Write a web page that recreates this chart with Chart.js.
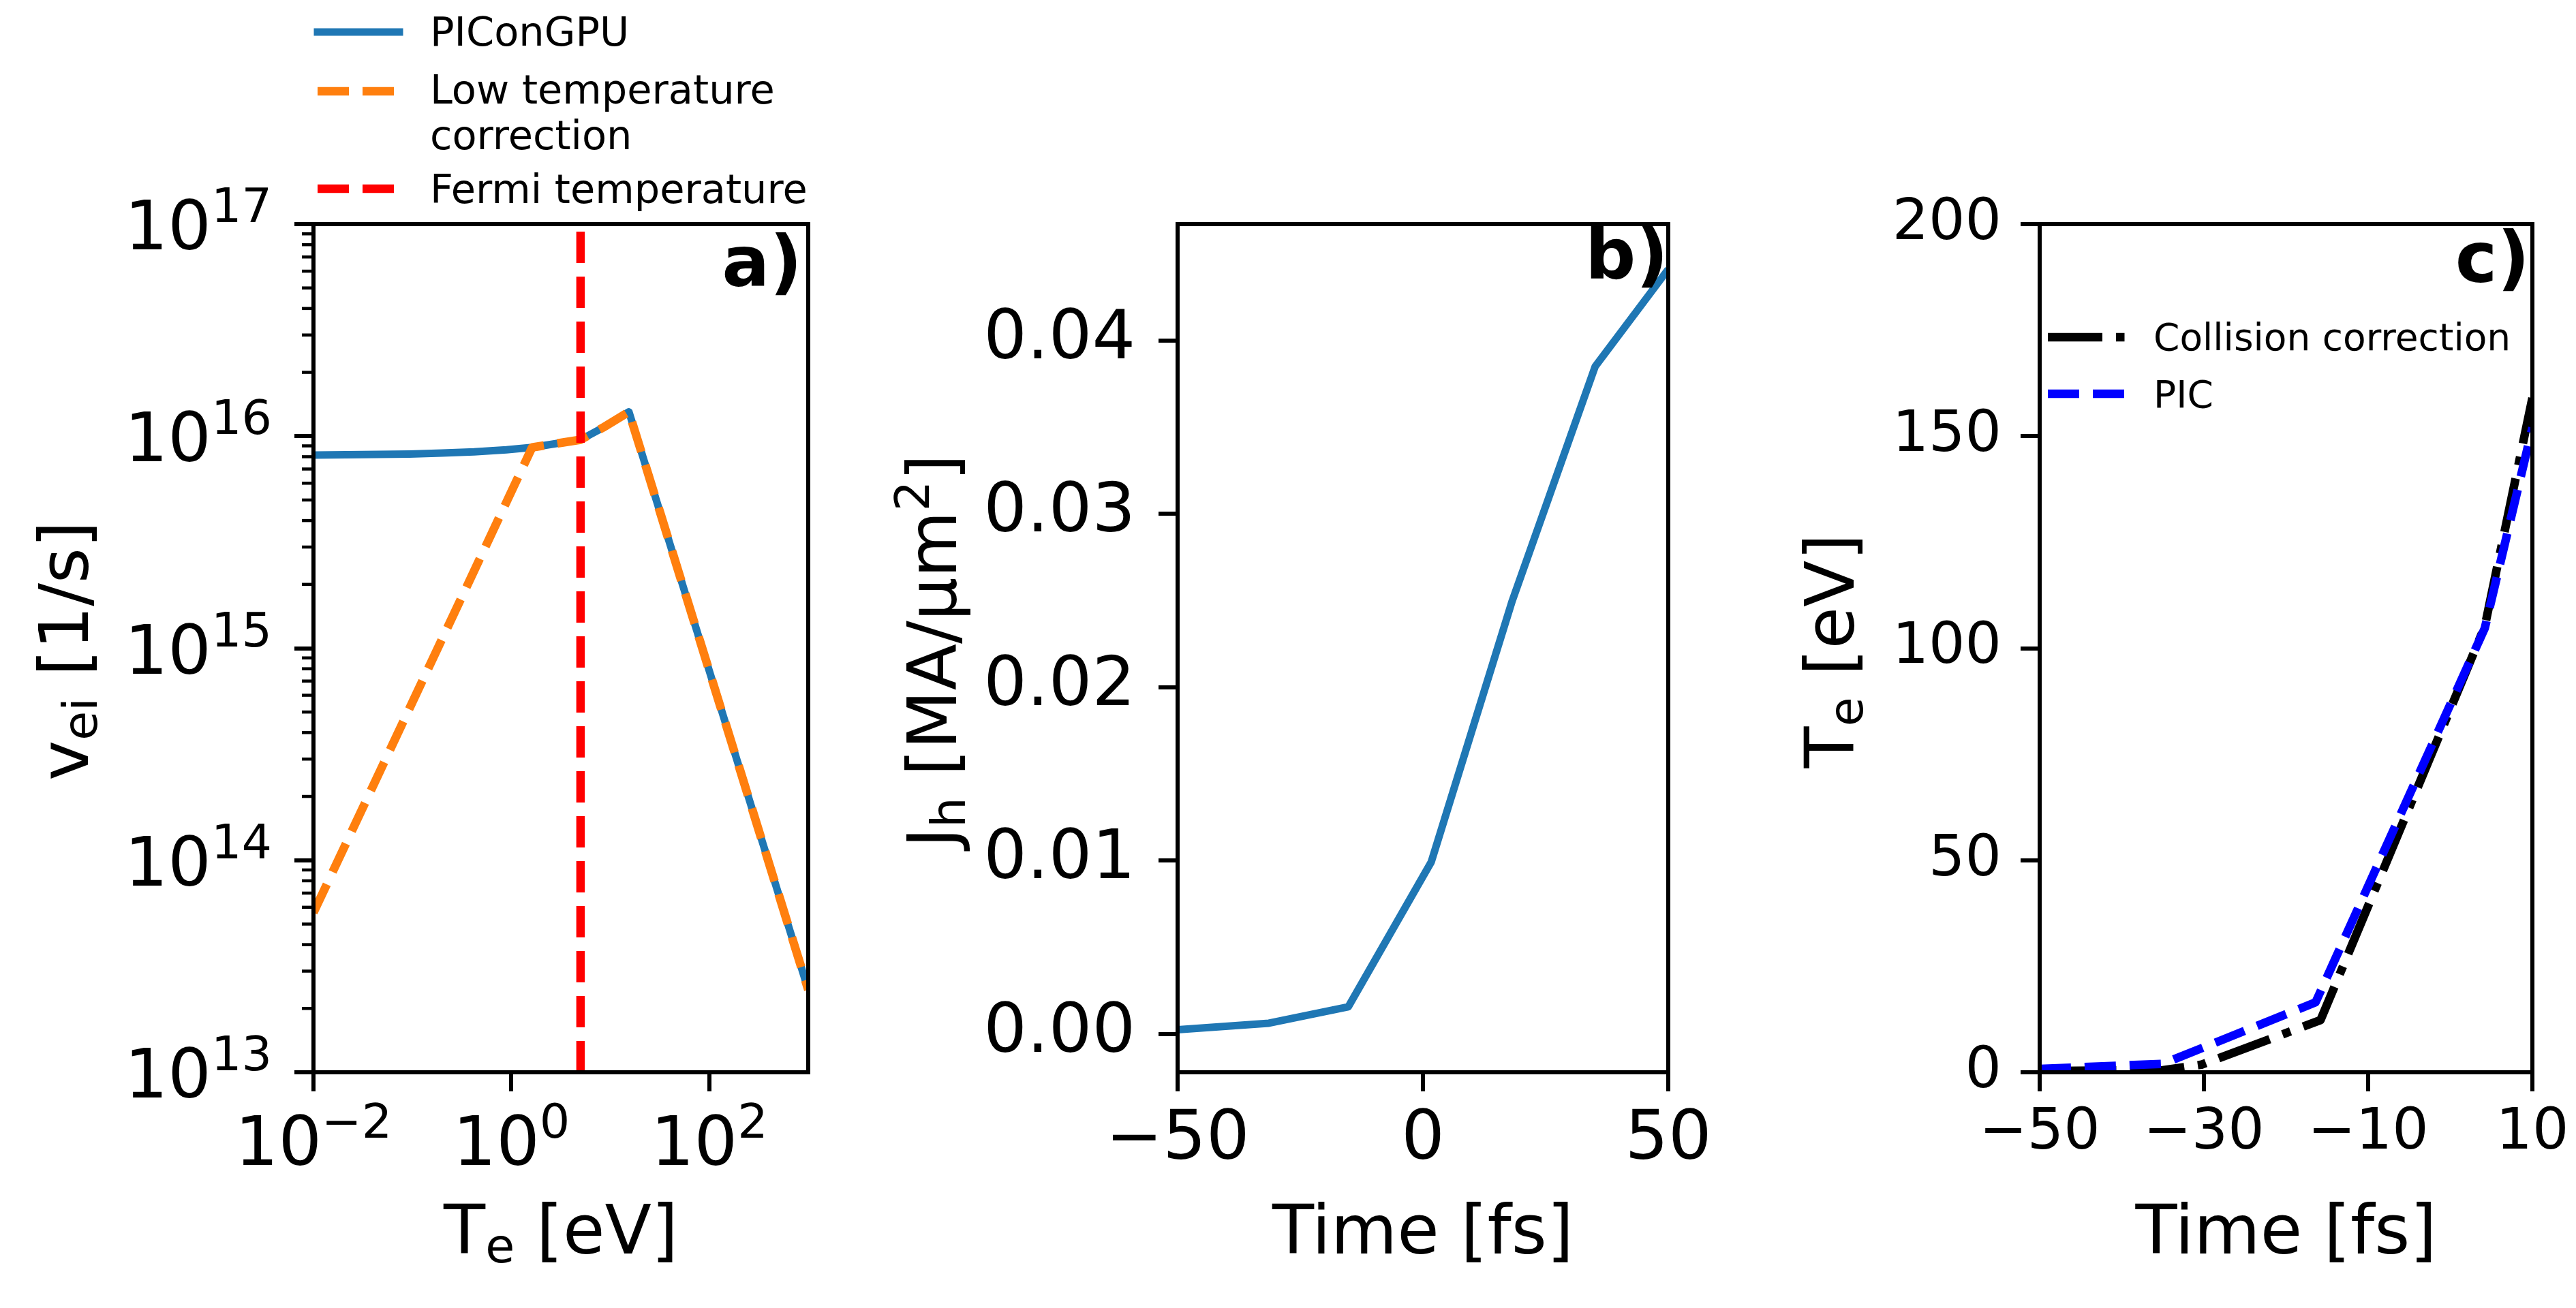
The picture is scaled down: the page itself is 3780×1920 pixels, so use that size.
<!DOCTYPE html>
<html>
<head>
<meta charset="utf-8">
<script src="https://cdn.jsdelivr.net/npm/chart.js"></script>
<style>
html, body { margin: 0; padding: 0; background: #fff; overflow: hidden; width: 3780px; height: 1920px; }
canvas { position: absolute; top: 0; }
</style>
</head>
<body>
<canvas id="panelA" width="1240" height="1920" style="left:0px"></canvas>
<canvas id="panelB" width="1300" height="1920" style="left:1240px"></canvas>
<canvas id="panelC" width="1330" height="1920" style="left:2500px"></canvas>
<script>
// panel a: collision frequency vs electron temperature (log-log)
const aTempPic = [0.01, 0.094, 0.2, 0.42, 0.89, 1.62, 2.94, 5.0, 8.4, 15.4, 1000];
const aNuPic = [8.15e15, 8.24e15, 8.32e15, 8.43e15, 8.63e15, 8.85e15, 9.25e15, 9.62e15, 1.096e16, 1.303e16, 2.45e13];
const aTempLow = [0.01, 1.62, 2.94, 5.0, 8.4, 15.4, 1000];
const aNuLow = [5.66e13, 8.85e15, 9.25e15, 9.62e15, 1.096e16, 1.303e16, 2.45e13];
const aFermiT = 5.0;
const aTempRange = [1e-2, 1e3];
const aNuRange = [1e13, 1e17];
const aTempTicks = [1e-2, 1e0, 1e2];
const aNuDecades = [13, 14, 15, 16, 17];

// panel b: hot electron current density vs time
const bTime = [-50, -31.4, -15.2, 1.7, 18.2, 35.1, 50];
const bJh = [0.00025, 0.00063, 0.00158, 0.00993, 0.02498, 0.03849, 0.0441];
const bTimeRange = [-50, 50];
const bJhRange = [-0.0022, 0.0467];
const bTimeTicks = [-50, 0, 50];
const bJhTicks = [0, 0.01, 0.02, 0.03, 0.04];

// panel c: electron temperature vs time
const cTimeColl = [-50, -35.0, -30.3, -15.8, 4.2, 10];
const cTeColl = [0.3, 0.5, 1.8, 12.3, 105.1, 159];
const cTimePic = [-50, -35.0, -16.4, 4.2, 10];
const cTePic = [0.8, 2.0, 16.5, 104.7, 152];
const cTimeRange = [-50, 10];
const cTeRange = [0, 200];
const cTimeTicks = [-50, -30, -10, 10];
const cTeTicks = [0, 50, 100, 150, 200];

const FONT = '"DejaVu Sans"';
const MINUS = '\u2212';

function pts(xs, ys) {
    return xs.map((x, i) => ({x: x, y: ys[i]}));
}

function isDecade(v) {
    const l = Math.log10(v);
    return Math.abs(l - Math.round(l)) < 1e-9;
}

function expText(v) {
    return String(Math.round(Math.log10(v))).replace('-', MINUS);
}

// text with sub/superscripts, drawn at a baseline
function drawRich(ctx, parts, x, y, size, align, rot) {
    ctx.save();
    ctx.translate(x, y);
    if (rot) ctx.rotate(rot);
    let w = 0;
    parts.forEach(p => {
        ctx.font = (p.s ? size * 0.7 : size) + 'px ' + FONT;
        w += ctx.measureText(p.t).width;
    });
    let cx = align === 'center' ? -w / 2 : align === 'right' ? -w : 0;
    ctx.textAlign = 'left';
    ctx.textBaseline = 'alphabetic';
    ctx.fillStyle = '#000';
    parts.forEach(p => {
        ctx.font = (p.s ? size * 0.7 : size) + 'px ' + FONT;
        const dy = p.s === 'sup' ? -0.40 * size : p.s === 'sub' ? 0.13 * size : 0;
        ctx.fillText(p.t, cx, dy);
        cx += ctx.measureText(p.t).width;
    });
    ctx.restore();
}

// spines, titles, panel letter, legend, log tick labels
function decor(cfg) {
    return {
        id: 'decor',
        afterDatasetsDraw(chart) {
            const ctx = chart.ctx;
            const ca = chart.chartArea;
            const off = cfg.offset;
            ctx.save();
            ctx.translate(-off, 0);
            const L = ca.left + off, R = ca.right + off;

            // box
            ctx.strokeStyle = '#000';
            ctx.lineWidth = 6;
            ctx.setLineDash([]);
            ctx.strokeRect(L, ca.top, R - L, ca.bottom - ca.top);

            if (cfg.logTicks) {
                const sx = chart.scales.x, sy = chart.scales.y;
                ctx.lineWidth = 4.5;
                sy.ticks.forEach(t => {
                    if (isDecade(t.value)) return;
                    const py = sy.getPixelForValue(t.value);
                    ctx.beginPath();
                    ctx.moveTo(L - 17, py);
                    ctx.lineTo(L, py);
                    ctx.stroke();
                });
                sx.ticks.forEach(t => {
                    const px = sx.getPixelForValue(t.value) + off;
                    drawRich(ctx, [{t: '10'}, {t: expText(t.value), s: 'sup'}], px, 1710, 100, 'center');
                });
                sy.ticks.forEach(t => {
                    if (!isDecade(t.value)) return;
                    const py = sy.getPixelForValue(t.value);
                    drawRich(ctx, [{t: '10'}, {t: expText(t.value), s: 'sup'}], 399, py + 37, 100, 'right');
                });
            }

            drawRich(ctx, cfg.xTitle, (L + R) / 2, 1840, 100, 'center');
            drawRich(ctx, cfg.yTitle, cfg.yTitleX, (ca.top + ca.bottom) / 2 + 4, 100, 'center', -Math.PI / 2);

            ctx.font = 'bold 104px ' + FONT;
            ctx.textAlign = 'right';
            ctx.textBaseline = 'alphabetic';
            ctx.fillStyle = '#000';
            ctx.fillText(cfg.letter, cfg.letterX, cfg.letterY);

            if (cfg.legend) {
                const lg = cfg.legend;
                lg.items.forEach(it => {
                    const ds = chart.data.datasets[it.ds];
                    const dash = ds.borderDash || [];
                    ctx.strokeStyle = ds.borderColor;
                    ctx.lineWidth = ds.borderWidth;
                    ctx.setLineDash(dash);
                    ctx.lineCap = dash.length ? 'butt' : 'square';
                    ctx.beginPath();
                    ctx.moveTo(lg.x0, it.y);
                    ctx.lineTo(lg.x1, it.y);
                    ctx.stroke();
                    ctx.setLineDash([]);
                    ctx.font = lg.size + 'px ' + FONT;
                    ctx.textAlign = 'left';
                    ctx.fillStyle = '#000';
                    it.lines.forEach((txt, k) => ctx.fillText(txt, lg.tx, it.base[k]));
                });
            }
            ctx.restore();
        }
    };
}

const tickGrid = {
    display: true, drawOnChartArea: false, drawTicks: true,
    tickLength: 28, tickWidth: 6, tickColor: '#000', color: '#000', lineWidth: 6
};
const tickFont = {family: 'DejaVu Sans', size: 100};
const tickFontC = {family: 'DejaVu Sans', size: 84};

function baseOptions(pad) {
    return {
        responsive: false,
        animation: false,
        devicePixelRatio: 1,
        events: [],
        layout: {padding: pad},
        elements: {
            point: {radius: 0},
            line: {tension: 0, fill: false, borderJoinStyle: 'round', borderCapStyle: 'butt'}
        },
        plugins: {legend: {display: false}, tooltip: {enabled: false}}
    };
}

// ---- panel a
const aNuTicks = [];
aNuDecades.forEach(e => {
    aNuTicks.push(Math.pow(10, e));
    if (e < aNuDecades[aNuDecades.length - 1]) {
        for (let m = 2; m <= 9; m++) aNuTicks.push(m * Math.pow(10, e));
    }
});

const optA = baseOptions({left: 0, top: 329, right: 54, bottom: 0});
optA.scales = {
    x: {
        type: 'logarithmic', min: aTempRange[0], max: aTempRange[1], bounds: 'data',
        afterBuildTicks: s => { s.ticks = aTempTicks.map(v => ({value: v})); },
        afterFit: s => { s.height = 346; },
        ticks: {display: false},
        grid: tickGrid,
        border: {display: false}
    },
    y: {
        type: 'logarithmic', min: aNuRange[0], max: aNuRange[1], bounds: 'data',
        afterBuildTicks: s => { s.ticks = aNuTicks.map(v => ({value: v})); },
        afterFit: s => { s.width = 460; },
        ticks: {display: false},
        grid: Object.assign({}, tickGrid, {
            tickColor: c => (c.tick && !isDecade(c.tick.value)) ? 'rgba(0,0,0,0)' : '#000'
        }),
        border: {display: false}
    }
};

new Chart(document.getElementById('panelA'), {
    type: 'line',
    data: {
        datasets: [
            {label: 'PIConGPU', data: pts(aTempPic, aNuPic), borderColor: '#1f77b4', borderWidth: 11, order: 3, clip: 0},
            {label: 'Low temperature correction', data: pts(aTempLow, aNuLow), borderColor: '#ff7f0e', borderWidth: 12.5, borderDash: [46, 20], order: 2, clip: 0},
            {label: 'Fermi temperature', data: [{x: aFermiT, y: aNuRange[0]}, {x: aFermiT, y: aNuRange[1]}], borderColor: '#ff0000', borderWidth: 12.5, borderDash: [46, 20], order: 1, clip: 0}
        ]
    },
    options: optA,
    plugins: [decor({
        offset: 0, logTicks: true,
        xTitle: [{t: 'T'}, {t: 'e', s: 'sub'}, {t: ' [eV]'}],
        yTitle: [{t: 'v'}, {t: 'ei', s: 'sub'}, {t: ' [1/s]'}],
        yTitleX: 129,
        letter: 'a)', letterX: 1177, letterY: 420,
        legend: {
            x0: 466, x1: 586, tx: 631, size: 59,
            items: [
                {ds: 0, y: 47, lines: ['PIConGPU'], base: [67]},
                {ds: 1, y: 134, lines: ['Low temperature', 'correction'], base: [152, 219]},
                {ds: 2, y: 277, lines: ['Fermi temperature'], base: [298]}
            ]
        }
    })]
});

// ---- panel b
const optB = baseOptions({left: 0, top: 329, right: 92, bottom: 0});
optB.scales = {
    x: {
        type: 'linear', min: bTimeRange[0], max: bTimeRange[1], bounds: 'data',
        afterBuildTicks: s => { s.ticks = bTimeTicks.map(v => ({value: v})); },
        afterFit: s => { s.height = 346; },
        ticks: {font: tickFont, color: '#000', padding: 13, maxRotation: 0, minRotation: 0, autoSkip: false,
            callback: v => String(v).replace('-', MINUS)},
        grid: tickGrid,
        border: {display: false}
    },
    y: {
        type: 'linear', min: bJhRange[0], max: bJhRange[1], bounds: 'data',
        afterBuildTicks: s => { s.ticks = bJhTicks.map(v => ({value: v})); },
        afterFit: s => { s.width = 488; },
        ticks: {font: tickFont, color: '#000', padding: 34, autoSkip: false,
            callback: v => v.toFixed(2)},
        grid: tickGrid,
        border: {display: false}
    }
};

new Chart(document.getElementById('panelB'), {
    type: 'line',
    data: {
        datasets: [
            {label: 'J_h', data: pts(bTime, bJh), borderColor: '#1f77b4', borderWidth: 11, clip: 0}
        ]
    },
    options: optB,
    plugins: [decor({
        offset: 1240,
        xTitle: [{t: 'Time [fs]'}],
        yTitle: [{t: 'J'}, {t: 'h', s: 'sub'}, {t: ' [MA/\u03bcm'}, {t: '2', s: 'sup'}, {t: ']'}],
        yTitleX: 1403,
        letter: 'b)', letterX: 2448, letterY: 409
    })]
});

// ---- panel c
const optC = baseOptions({left: 0, top: 329, right: 114, bottom: 0});
optC.scales = {
    x: {
        type: 'linear', min: cTimeRange[0], max: cTimeRange[1], bounds: 'data',
        afterBuildTicks: s => { s.ticks = cTimeTicks.map(v => ({value: v})); },
        afterFit: s => { s.height = 346; },
        ticks: {font: tickFontC, color: '#000', padding: 12, maxRotation: 0, minRotation: 0, autoSkip: false,
            callback: v => String(v).replace('-', MINUS)},
        grid: tickGrid,
        border: {display: false}
    },
    y: {
        type: 'linear', min: cTeRange[0], max: cTeRange[1], bounds: 'data',
        afterBuildTicks: s => { s.ticks = cTeTicks.map(v => ({value: v})); },
        afterFit: s => { s.width = 493; },
        ticks: {font: tickFontC, color: '#000', padding: 28, autoSkip: false,
            callback: v => String(v)},
        grid: tickGrid,
        border: {display: false}
    }
};

new Chart(document.getElementById('panelC'), {
    type: 'line',
    data: {
        datasets: [
            {label: 'Collision correction', data: pts(cTimeColl, cTeColl), borderColor: '#000000', borderWidth: 12.5, borderDash: [80, 20, 12.5, 20], order: 2, clip: 0},
            {label: 'PIC', data: pts(cTimePic, cTePic), borderColor: '#0000ff', borderWidth: 12.5, borderDash: [46, 20], order: 1, clip: 0}
        ]
    },
    options: optC,
    plugins: [decor({
        offset: 2500,
        xTitle: [{t: 'Time [fs]'}],
        yTitle: [{t: 'T'}, {t: 'e', s: 'sub'}, {t: ' [eV]'}],
        yTitleX: 2720,
        letter: 'c)', letterX: 3712, letterY: 414,
        legend: {
            x0: 3005, x1: 3121, tx: 3160, size: 55,
            items: [
                {ds: 0, y: 495, lines: ['Collision correction'], base: [514]},
                {ds: 1, y: 578, lines: ['PIC'], base: [598]}
            ]
        }
    })]
});
</script>
</body>
</html>
